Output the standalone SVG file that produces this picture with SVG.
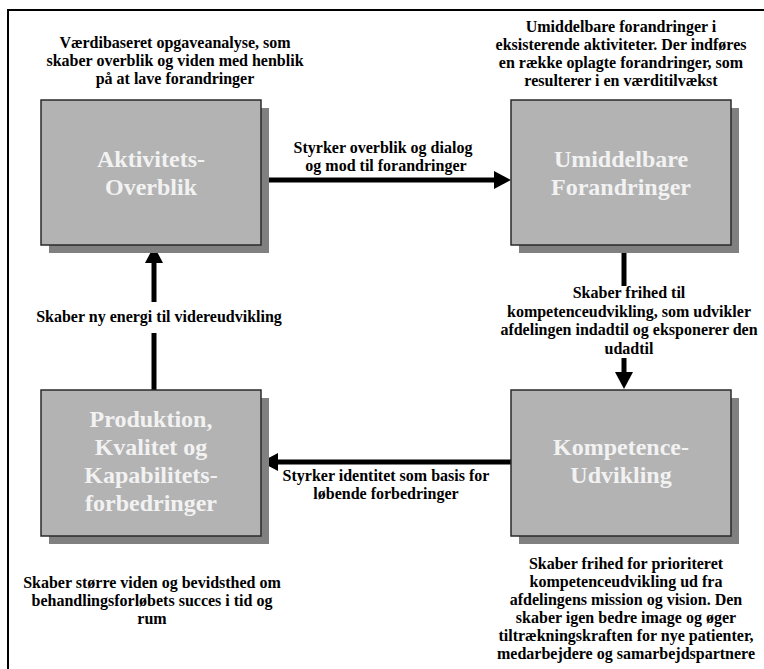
<svg xmlns="http://www.w3.org/2000/svg" width="764" height="669" viewBox="0 0 764 669">
<defs>
<style>
.t{font-family:"Liberation Serif","Times New Roman",serif;font-weight:bold;font-size:16px;fill:#000;text-anchor:middle}
.bt{font-family:"Liberation Serif","Times New Roman",serif;font-weight:bold;font-size:24px;fill:#f2f2f2;text-anchor:middle}
.box{fill:#b3b3b3;stroke:#2a2a2a;stroke-width:1.5}
.sh{fill:#808080}
.ln{stroke:#000;stroke-width:5;fill:none}
</style>
<marker id="ah" viewBox="0 0 17 18" refX="0" refY="9" markerWidth="17" markerHeight="18" markerUnits="userSpaceOnUse" orient="auto">
<path d="M0,0 L17,9 L0,18 Z" fill="#000"/>
</marker>
</defs>
<rect width="764" height="669" fill="#fff"/>
<path d="M8,669 V10 H764" fill="none" stroke="#000" stroke-width="2"/>

<g id="connectors">
<path class="ln" d="M261,180 H494" marker-end="url(#ah)"/>
<path class="ln" d="M624,245 V286"/>
<path class="ln" d="M624,358 V372" marker-end="url(#ah)"/>
<path class="ln" d="M511,462 H278" marker-end="url(#ah)"/>
<path class="ln" d="M154,390 V333"/>
<path class="ln" d="M154,302 V263" marker-end="url(#ah)"/>
<text class="t" x="383" y="153">Styrker overblik og dialog</text>
<text class="t" x="386" y="171">og mod til forandringer</text>
<text class="t" x="629" y="298">Skaber frihed til</text>
<text class="t" x="629" y="316.5">kompetenceudvikling, som udvikler</text>
<text class="t" x="629" y="335">afdelingen indadtil og eksponerer den</text>
<text class="t" x="629" y="353.5">udadtil</text>
<text class="t" x="386" y="481">Styrker identitet som basis for</text>
<text class="t" x="386" y="499">løbende forbedringer</text>
<text class="t" x="159" y="322">Skaber ny energi til videreudvikling</text>
</g>

<g id="node-aktivitet">
<rect class="sh" x="49" y="108" width="220" height="145"/>
<rect class="box" x="41" y="100" width="220" height="145"/>
<text class="bt" x="151" y="167">Aktivitets-</text>
<text class="bt" x="151" y="195">Overblik</text>
</g>

<g id="node-umiddelbare">
<rect class="sh" x="519" y="108" width="220" height="145"/>
<rect class="box" x="511" y="100" width="220" height="145"/>
<text class="bt" x="621" y="167">Umiddelbare</text>
<text class="bt" x="621" y="195">Forandringer</text>
</g>

<g id="node-produktion">
<rect class="sh" x="49" y="398" width="220" height="146"/>
<rect class="box" x="41" y="390" width="220" height="146"/>
<text class="bt" x="151" y="427">Produktion,</text>
<text class="bt" x="151" y="455">Kvalitet og</text>
<text class="bt" x="151" y="483">Kapabilitets-</text>
<text class="bt" x="151" y="511">forbedringer</text>
</g>

<g id="node-kompetence">
<rect class="sh" x="519" y="398" width="220" height="146"/>
<rect class="box" x="511" y="390" width="220" height="146"/>
<text class="bt" x="621" y="455">Kompetence-</text>
<text class="bt" x="621" y="483">Udvikling</text>
</g>

<g id="note-top-left">
<text class="t" x="175" y="48">Værdibaseret opgaveanalyse, som</text>
<text class="t" x="175" y="66">skaber overblik og viden med henblik</text>
<text class="t" x="175" y="84">på at lave forandringer</text>
</g>

<g id="note-top-right">
<text class="t" x="621" y="32">Umiddelbare forandringer i</text>
<text class="t" x="621" y="50">eksisterende aktiviteter. Der indføres</text>
<text class="t" x="621" y="68">en række oplagte forandringer, som</text>
<text class="t" x="621" y="86">resulterer i en værditilvækst</text>
</g>

<g id="note-bottom-left">
<text class="t" x="152" y="588">Skaber større viden og bevidsthed om</text>
<text class="t" x="152" y="606">behandlingsforløbets succes i tid og</text>
<text class="t" x="152" y="624">rum</text>
</g>

<g id="note-bottom-right">
<text class="t" x="626" y="569">Skaber frihed for prioriteret</text>
<text class="t" x="626" y="587">kompetenceudvikling ud fra</text>
<text class="t" x="626" y="605">afdelingens mission og vision. Den</text>
<text class="t" x="626" y="623">skaber igen bedre image og øger</text>
<text class="t" x="626" y="641">tiltrækningskraften for nye patienter,</text>
<text class="t" x="626" y="659">medarbejdere og samarbejdspartnere</text>
</g>
</svg>
